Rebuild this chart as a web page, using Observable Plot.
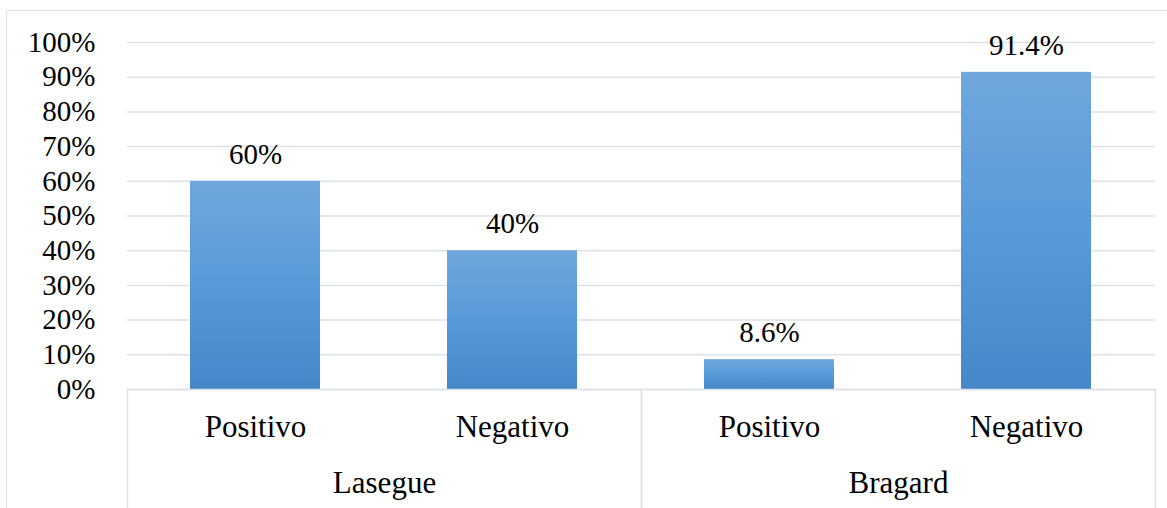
<!DOCTYPE html>
<html>
<head>
<meta charset="utf-8">
<script src="https://cdn.jsdelivr.net/npm/d3@7"></script>
<script src="https://cdn.jsdelivr.net/npm/@observablehq/plot@0.6"></script>
<style>
  html, body { margin: 0; padding: 0; background: #fff; }
  #wrap { position: relative; width: 1167px; height: 508px; overflow: hidden; }
  #border { position: absolute; left: 6px; top: 10px; width: 1200px; height: 600px;
            border-left: 1.5px solid #dfe3ea; border-top: 1.5px solid #dfe3ea; box-sizing: border-box; }
  svg { position: absolute; left: 0; top: 0; }
</style>
</head>
<body>
<div id="wrap"><div id="border"></div></div>
<script>
// ---- data ----
const groups  = ["Lasegue", "Lasegue", "Bragard", "Bragard"];
const results = ["Positivo", "Negativo", "Positivo", "Negativo"];
const values  = [0.60, 0.40, 0.086, 0.914];
const valueLabels = ["60%", "40%", "8.6%", "91.4%"];
const groupOrder  = ["Lasegue", "Bragard"];
const resultOrder = ["Positivo", "Negativo"];
const yTicks = [0, 0.1, 0.2, 0.3, 0.4, 0.5, 0.6, 0.7, 0.8, 0.9, 1.0];
const yTickLabels = ["0%", "10%", "20%", "30%", "40%", "50%", "60%", "70%", "80%", "90%", "100%"];

const data = groups.map((g, i) => ({group: g, result: results[i], value: values[i], label: valueLabels[i]}));

const gridColor = "#dde1e8";
const font = "Times New Roman";

const chart = Plot.plot({
  width: 1167,
  height: 508,
  marginLeft: 126,
  marginRight: 12,
  marginTop: 42,
  marginBottom: 119,
  style: {fontFamily: font, color: "#000", background: "transparent", overflow: "visible"},
  fx: {domain: groupOrder, padding: 0, label: null},
  x: {domain: resultOrder, paddingInner: 0.494, paddingOuter: 0.247, label: null},
  y: {domain: [0, 1], label: null},
  marks: [
    Plot.gridY(yTicks, {stroke: gridColor, strokeOpacity: 1, strokeWidth: 1.5}),
    Plot.barY(data, {fx: "group", x: "result", y: "value", fill: "url(#barGrad)"}),
    Plot.ruleY([0], {stroke: gridColor, strokeWidth: 1.5}),
    Plot.frame({anchor: "left", stroke: gridColor, strokeWidth: 1.5, insetTop: 347, insetBottom: -125}),
    Plot.frame({anchor: "right", stroke: gridColor, strokeWidth: 1.5, insetTop: 347, insetBottom: -125}),
    Plot.text(data, {fx: "group", x: "result", y: "value", text: "label", dy: -27, fontSize: 29, fontFamily: font, fill: "#000"}),
    Plot.axisY({ticks: yTicks, tickFormat: (d, i) => yTickLabels[i], tickSize: 0, tickPadding: 32, fontSize: 29, fontFamily: font, fill: "#000", label: null}),
    Plot.axisX({tickSize: 0, tickPadding: 25, fontSize: 31, fontFamily: font, fill: "#000", label: null}),
    Plot.axisFx({anchor: "bottom", tickSize: 0, tickPadding: 81, fontSize: 31, fontFamily: font, fill: "#000", label: null})
  ]
});

// use a plain serif face everywhere, without tabular-number variants
chart.querySelectorAll("[font-variant]").forEach(e => e.removeAttribute("font-variant"));
chart.querySelectorAll("text, g").forEach(e => {
  e.style.fontVariant = "normal";
  e.style.fontVariantNumeric = "normal";
  e.setAttribute("font-family", "Liberation Serif");
  e.style.fontFamily = "'Liberation Serif'";
});

// per-bar vertical gradient
const ns = "http://www.w3.org/2000/svg";
const defs = document.createElementNS(ns, "defs");
const lg = document.createElementNS(ns, "linearGradient");
lg.setAttribute("id", "barGrad");
lg.setAttribute("x1", "0"); lg.setAttribute("y1", "0");
lg.setAttribute("x2", "0"); lg.setAttribute("y2", "1");
[["0", "#70a7dd"], ["0.5", "#579ad9"], ["1", "#4587c8"]].forEach(([o, c]) => {
  const s = document.createElementNS(ns, "stop");
  s.setAttribute("offset", o); s.setAttribute("stop-color", c);
  lg.appendChild(s);
});
defs.appendChild(lg);
chart.insertBefore(defs, chart.firstChild);

document.getElementById("wrap").appendChild(chart);
</script>
</body>
</html>
